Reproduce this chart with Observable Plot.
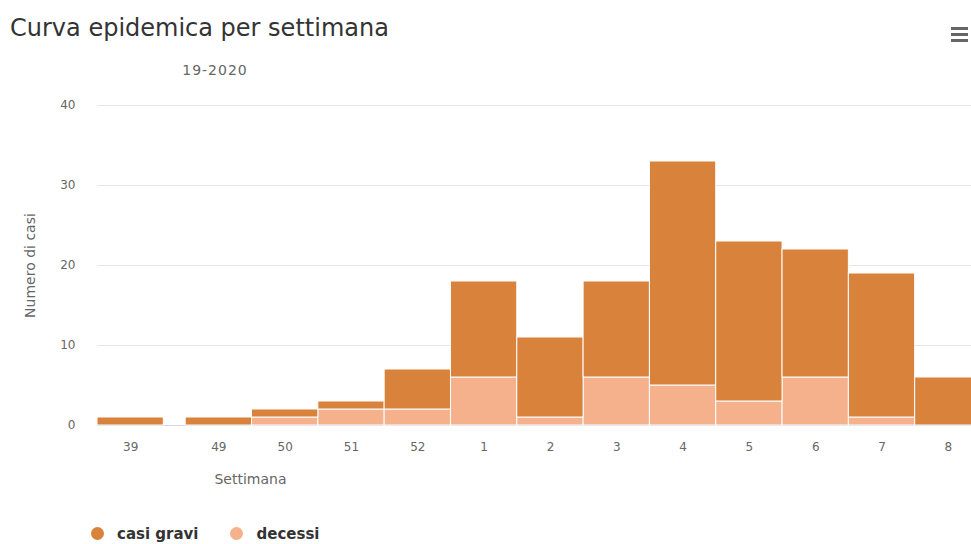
<!DOCTYPE html>
<html>
<head>
<meta charset="utf-8">
<script src="https://cdn.jsdelivr.net/npm/d3@7"></script>
<script src="https://cdn.jsdelivr.net/npm/@observablehq/plot@0.6"></script>
<style>
  html, body { margin: 0; padding: 0; background: #fff; overflow: hidden; }
  #wrap { position: relative; width: 971px; height: 544px; overflow: hidden; font-family: "DejaVu Sans", sans-serif; }
  #chart { position: absolute; left: 0; top: 0; }
  #title { position: absolute; left: 10px; top: 14px; font-size: 24px; color: #333; white-space: nowrap; }
  #subtitle { position: absolute; left: 215px; top: 62px; transform: translateX(-50%); font-size: 14px; letter-spacing: 1px; color: #666; white-space: nowrap; }
  #menu { position: absolute; left: 951px; top: 27px; width: 17px; }
  #menu div { height: 3px; background: #666; margin-bottom: 3px; }
  #legend { position: absolute; left: 91px; top: 526px; font-size: 15px; line-height: 17px; font-weight: bold; color: #333; white-space: nowrap; }
  #legend span.item { display: inline-block; margin-right: 32px; }
  #legend span.dot { display: inline-block; width: 13px; height: 13px; border-radius: 50%; vertical-align: -1px; margin-right: 13px; }
</style>
</head>
<body>
<div id="wrap">
  <div id="chart"></div>
  <div id="title">Curva epidemica per settimana</div>
  <div id="subtitle">19-2020</div>
  <div id="menu"><div></div><div></div><div></div></div>
  <div id="legend"></div>
</div>
<script>
// ---- data ----
const weeks = ["39", "49", "50", "51", "52", "1", "2", "3", "4", "5", "6", "7", "8"];
const casiGravi = [1, 1, 1, 1, 5, 12, 10, 12, 28, 20, 16, 18, 6];
const decessi   = [0, 0, 1, 2, 2, 6, 1, 6, 5, 3, 6, 1, 0];
const yTicks = [0, 10, 20, 30, 40];
const seriesNames = ["casi gravi", "decessi"];
const seriesColors = ["#d8823b", "#f5b08c"];

// ---- layout (gap between the first column and the rest, in band units) ----
const GAP = 0.33;
const pos = (i) => i + (i > 0 ? GAP : 0);
const centers = weeks.map((w, i) => pos(i) + 0.5);
const labelAt = new Map(centers.map((c, i) => [c, weeks[i]]));

const rows = weeks.map((w, i) => ({ i, week: w, casi: casiGravi[i], dec: decessi[i] }));

const chart = Plot.plot({
  width: 971,
  height: 544,
  marginLeft: 97,
  marginRight: 0,
  marginTop: 105,
  marginBottom: 119,
  style: { fontFamily: "DejaVu Sans, sans-serif", fontSize: "12px", color: "#666", background: "transparent" },
  x: { type: "linear", domain: [0, pos(weeks.length - 1) + 1], range: [97, 981] },
  y: { domain: [0, 40], range: [425, 105] },
  marks: [
    Plot.gridY(yTicks.filter(t => t > 0), { stroke: "#e6e6e6", strokeOpacity: 1 }),
    Plot.ruleY([0], { stroke: "#ccd6eb" }),
    Plot.rect(rows.filter(d => d.dec > 0), {
      x1: d => pos(d.i), x2: d => pos(d.i) + 1,
      y1: 0, y2: d => d.dec,
      fill: seriesColors[1], stroke: "white", strokeWidth: 1
    }),
    Plot.rect(rows, {
      x1: d => pos(d.i), x2: d => pos(d.i) + 1,
      y1: d => d.dec, y2: d => d.dec + d.casi,
      fill: seriesColors[0], stroke: "white", strokeWidth: 1
    }),
    Plot.axisY(yTicks, { tickSize: 0, tickPadding: 22, label: null, fill: "#666" }),
    Plot.axisX(centers, { tickSize: 0, tickPadding: 17, label: null, fill: "#666", tickFormat: v => labelAt.get(v) }),
    Plot.text(["Numero di casi"], { frameAnchor: "left", textAnchor: "middle", rotate: -90, dx: -67, fill: "#666", fontSize: 14, style: "letter-spacing:1px" }),
    Plot.text(["Settimana"], { frameAnchor: "bottom-left", textAnchor: "middle", dx: 153, dy: 58, fill: "#666", fontSize: 14 })
  ]
});
document.getElementById("chart").appendChild(chart);

const legend = document.getElementById("legend");
seriesNames.forEach((name, k) => {
  const item = document.createElement("span");
  item.className = "item";
  const dot = document.createElement("span");
  dot.className = "dot";
  dot.style.background = seriesColors[k];
  item.appendChild(dot);
  item.appendChild(document.createTextNode(name));
  legend.appendChild(item);
});
</script>
</body>
</html>
